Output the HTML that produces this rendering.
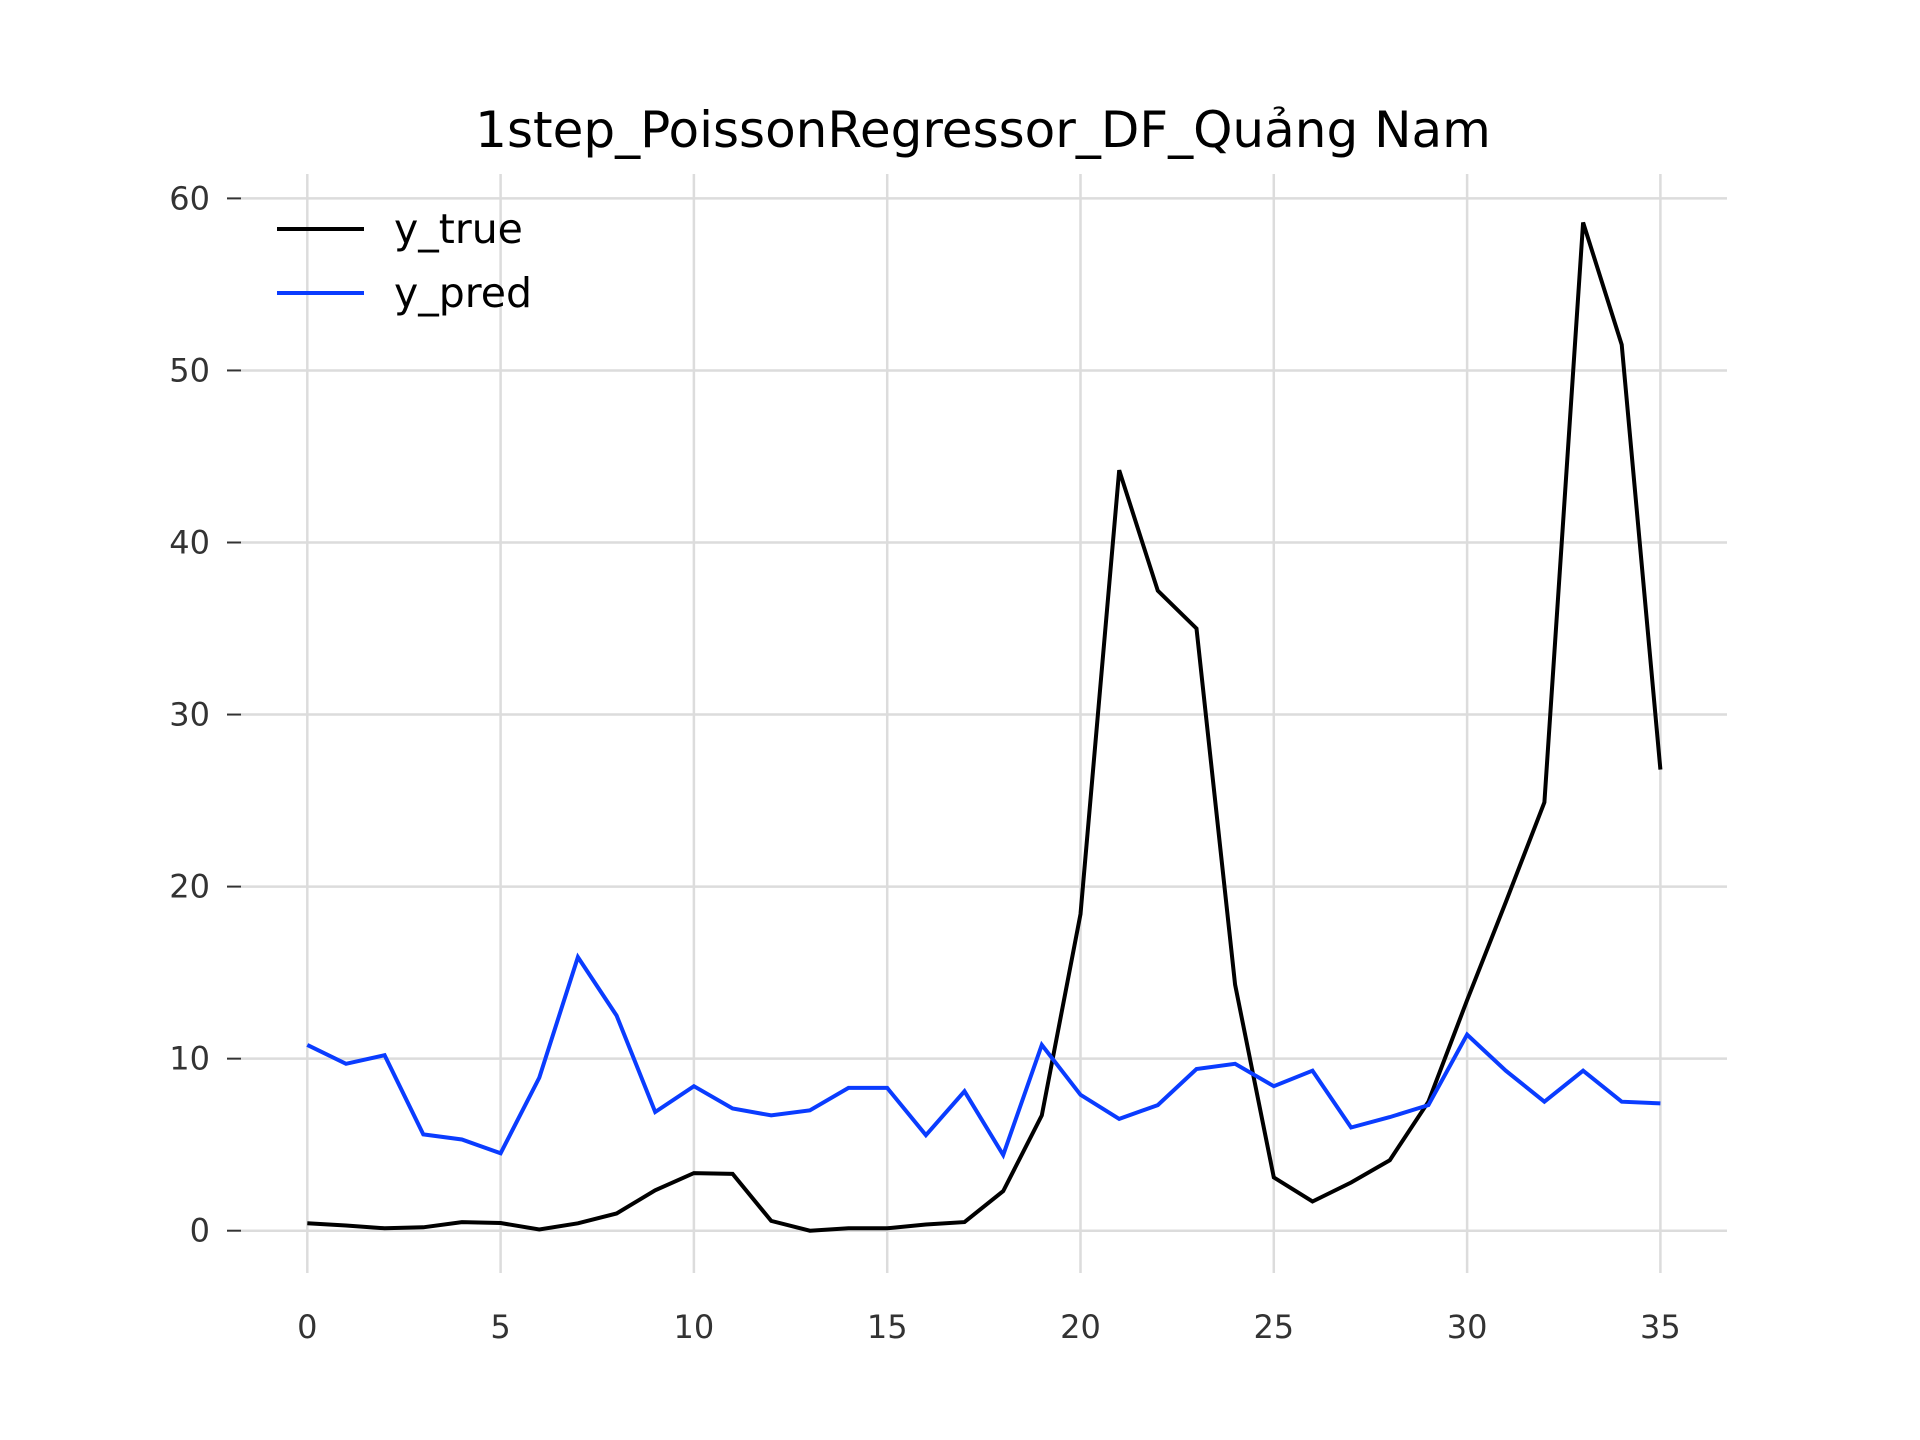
<!DOCTYPE html>
<html><head><meta charset="utf-8"><style>
html,body{margin:0;padding:0;background:#fff;}
svg{display:block;font-family:"DejaVu Sans","Liberation Sans",sans-serif;}
</style></head><body>
<svg id="chart" width="1920" height="1440" viewBox="0 0 1920 1440" xmlns="http://www.w3.org/2000/svg">
<rect width="1920" height="1440" fill="#fff"/>
<text x="983" y="147" font-size="50" text-anchor="middle" fill="#000">1step_PoissonRegressor_DF_Quảng Nam</text>
<g id="grid"></g><g id="axes"></g><g id="series"></g>
<g>
<line x1="277" y1="229" x2="364" y2="229" stroke="#000" stroke-width="4"/>
<text x="394" y="243" font-size="41" fill="#000">y_true</text>
<line x1="277" y1="293" x2="364" y2="293" stroke="#0a3cff" stroke-width="4"/>
<text x="394" y="307" font-size="41" fill="#000">y_pred</text>
</g>
</svg>
<script>
const xs = [];
for (let i = 0; i <= 35; i++) xs.push(i);
const yTrue = [0.43,0.3,0.14,0.2,0.5,0.45,0.07,0.43,1.0,2.35,3.35,3.3,0.57,0,0.14,0.14,0.36,0.5,2.3,6.7,18.4,44.2,37.2,35,14.3,3.1,1.7,2.8,4.1,7.5,13.4,19.1,24.9,58.6,51.5,26.8];
const yPred = [10.8,9.7,10.2,5.6,5.3,4.5,8.9,15.9,12.5,6.9,8.4,7.1,6.7,7.0,8.3,8.3,5.55,8.1,4.4,10.8,7.9,6.5,7.3,9.4,9.7,8.4,9.3,6.0,6.6,7.3,11.4,9.3,7.5,9.3,7.5,7.4];
const xTicks = [0,5,10,15,20,25,30,35];
const yTicks = [0,10,20,30,40,50,60];

const NS = "http://www.w3.org/2000/svg";
const X = v => 307.3 + v * (1660.4 - 307.3) / 35;
const Y = v => 1230.7 - v * (1230.7 - 198.4) / 60;
function mk(tag, attrs, parent){const e=document.createElementNS(NS,tag);for(const k in attrs)e.setAttribute(k,attrs[k]);parent.appendChild(e);return e;}
const grid=document.getElementById('grid'), axes=document.getElementById('axes'), series=document.getElementById('series');
xTicks.forEach(t=>{
  const l=mk('line',{x1:X(t),x2:X(t),y1:174,y2:1273,stroke:'#dcdcdc','stroke-width':2.5},grid);
  
  
  const tx=mk('text',{x:X(t),y:1338,'font-size':32,'text-anchor':'middle',fill:'#333'},axes);
  tx.textContent=t;
  
  
});
yTicks.forEach(t=>{
  const l=mk('line',{x1:241,x2:1727,y1:Y(t),y2:Y(t),stroke:'#dcdcdc','stroke-width':2.5},grid);
  
  
  const tk=mk('line',{x1:227,x2:241,y1:Y(t),y2:Y(t),stroke:'#333','stroke-width':2},axes);
  
  
  const tx=mk('text',{x:210,y:Y(t)+11,'font-size':32,'text-anchor':'end',fill:'#333'},axes);
  tx.textContent=t;
  
  
});
function line(vals,color,name){
  const d=vals.map((v,i)=>(i?'L':'M')+X(xs[i]).toFixed(1)+','+Y(v).toFixed(1)).join(' ');
  const p=mk('path',{d:d,fill:'none',stroke:color,'stroke-width':4,'stroke-linejoin':'miter'},series);
  
  
}
line(yTrue,'#000','y-true-line');
line(yPred,'#0a3cff','y-pred-line');
</script>
</body></html>
